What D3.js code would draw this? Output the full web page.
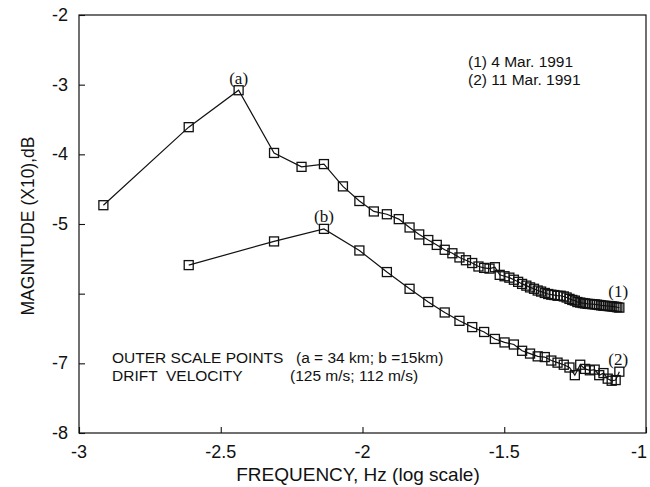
<!DOCTYPE html>
<html><head><meta charset="utf-8">
<script src="https://cdn.jsdelivr.net/npm/d3@7"></script>
<style>body{margin:0;background:#fff}svg{display:block}</style>
</head><body>
<svg id="c" width="650" height="487"></svg>
<script>
// log10 frequency (Hz) and magnitude (x10 dB)
const freq1 = [-2.914,-2.613,-2.437,-2.312,-2.215,-2.136,-2.069,-2.011,-1.960,-1.914,-1.872,-1.834,-1.800,-1.768,-1.738,-1.710,-1.683,-1.658,-1.635,-1.613,-1.591,-1.571,-1.552,-1.533,-1.516,-1.499,-1.482,-1.466,-1.451,-1.437,-1.422,-1.409,-1.395,-1.382,-1.370,-1.357,-1.345,-1.334,-1.323,-1.312,-1.301,-1.290,-1.280,-1.270,-1.260,-1.251,-1.242,-1.232,-1.223,-1.215,-1.206,-1.198,-1.189,-1.181,-1.173,-1.165,-1.158,-1.150,-1.143,-1.135,-1.128,-1.121,-1.114,-1.107,-1.101,-1.094];
const mag1 = [-4.73,-3.61,-3.08,-3.98,-4.18,-4.14,-4.46,-4.67,-4.82,-4.86,-4.93,-5.05,-5.15,-5.23,-5.30,-5.37,-5.42,-5.48,-5.52,-5.56,-5.61,-5.63,-5.64,-5.62,-5.73,-5.75,-5.77,-5.80,-5.83,-5.86,-5.885,-5.91,-5.93,-5.955,-5.97,-5.99,-6.005,-6.015,-6.02,-6.03,-6.03,-6.04,-6.055,-6.075,-6.09,-6.10,-6.12,-6.128,-6.135,-6.14,-6.146,-6.148,-6.151,-6.154,-6.158,-6.163,-6.168,-6.173,-6.175,-6.177,-6.18,-6.182,-6.186,-6.19,-6.195,-6.20];
const freq2 = [-2.613,-2.312,-2.136,-2.011,-1.914,-1.834,-1.768,-1.710,-1.658,-1.613,-1.571,-1.533,-1.499,-1.466,-1.437,-1.409,-1.382,-1.357,-1.334,-1.312,-1.290,-1.270,-1.251,-1.232,-1.215,-1.198,-1.181,-1.165,-1.150,-1.135,-1.121,-1.107,-1.094];
const mag2 = [-5.59,-5.25,-5.07,-5.38,-5.69,-5.93,-6.12,-6.27,-6.39,-6.48,-6.55,-6.65,-6.70,-6.73,-6.82,-6.86,-6.90,-6.91,-6.96,-6.99,-7.02,-7.06,-7.17,-7.02,-7.08,-7.10,-7.09,-7.17,-7.14,-7.22,-7.25,-7.24,-7.12];
const xTicks = [-3,-2.5,-2,-1.5,-1];
const xTickLabels = ["-3","-2.5","-2","-1.5","-1"];
const yTicks = [-2,-3,-4,-5,-6,-7,-8];
const yTickLabels = ["-2","-3","-4","-5","","-7","-8"];
const legendLines = ["(1) 4 Mar. 1991","(2) 11 Mar. 1991"];
const noteLine1 = ["OUTER SCALE POINTS","(a = 34 km; b =15km)"];
const noteLine2 = ["DRIFT  VELOCITY","(125 m/s; 112 m/s)"];
const pointLabels = [{t:"(a)",x:-2.437,y:-3.08},{t:"(b)",x:-2.136,y:-5.07}];
const endLabels = [{t:"(1)",x:-1.094,y:-6.20},{t:"(2)",x:-1.094,y:-7.12}];

const svg = d3.select("#c");
const L=79,R=646,T=15,B=433;
const x = d3.scaleLinear().domain([-3,-1]).range([L,R]);
const y = d3.scaleLinear().domain([-8,-2]).range([B,T]);
const sans = "'Liberation Sans', Arial, sans-serif";
const serif = "'Liberation Serif', 'Times New Roman', serif";

// frame
svg.append("rect").attr("x",L).attr("y",T).attr("width",R-L).attr("height",B-T)
  .attr("fill","none").attr("stroke","#111").attr("stroke-width",1.2);

// y axis
const yAx = svg.append("g").attr("transform",`translate(${L},0)`)
  .call(d3.axisRight(y).tickValues(yTicks).tickSize(6).tickFormat(""));
yAx.select(".domain").remove();
yAx.selectAll("line").attr("stroke","#111").attr("stroke-width",1.1);
svg.append("g").selectAll("text").data(yTicks).join("text")
  .attr("x",L-11).attr("y",d=>y(d)+6).attr("text-anchor","end")
  .attr("font-family",sans).attr("font-size",18).attr("fill","#111")
  .text((d,i)=>yTickLabels[i]);

// x axis
const xAx = svg.append("g").attr("transform",`translate(0,${B})`)
  .call(d3.axisTop(x).tickValues(xTicks).tickSize(6).tickFormat(""));
xAx.select(".domain").remove();
xAx.selectAll("line").attr("stroke","#111").attr("stroke-width",1.1);
svg.append("g").selectAll("text").data(xTicks).join("text")
  .attr("x",d=>Math.min(x(d),639)).attr("y",B+25).attr("text-anchor","middle")
  .attr("font-family",sans).attr("font-size",18).attr("fill","#111")
  .text((d,i)=>xTickLabels[i]);

// axis titles
svg.append("text").attr("x",358).attr("y",481).attr("text-anchor","middle")
  .attr("font-family",sans).attr("font-size",19).attr("fill","#111")
  .text("FREQUENCY, Hz (log scale)");
svg.append("text").attr("transform","translate(34,226) rotate(-90)").attr("text-anchor","middle")
  .attr("font-family",sans).attr("font-size",17.5).attr("fill","#111")
  .text("MAGNITUDE (X10),dB");

// series
const line = d3.line().x(d=>x(d[0])).y(d=>y(d[1]));
[[freq1,mag1],[freq2,mag2]].forEach(([f,m])=>{
  const pts = f.map((v,i)=>[v,m[i]]);
  svg.append("path").datum(pts).attr("d",line).attr("fill","none")
    .attr("stroke","#111").attr("stroke-width",1.2);
  svg.append("g").selectAll("rect").data(pts).join("rect")
    .attr("x",d=>x(d[0])-4.5).attr("y",d=>y(d[1])-4.5).attr("width",9).attr("height",9)
    .attr("fill","none").attr("stroke","#111").attr("stroke-width",1.3);
});

// point labels
svg.append("g").selectAll("text").data(pointLabels).join("text")
  .attr("x",d=>x(d.x)).attr("y",d=>y(d.y)-6.5).attr("text-anchor","middle")
  .attr("font-family",serif).attr("font-size",17).attr("fill","#111").text(d=>d.t);
const endDy = [-10.5,-7];
svg.append("g").selectAll("text").data(endLabels).join("text")
  .attr("x",d=>x(d.x)-11).attr("y",(d,i)=>y(d.y)+endDy[i]).attr("text-anchor","start")
  .attr("font-family",serif).attr("font-size",17).attr("fill","#111").text(d=>d.t);

// legend
svg.append("g").selectAll("text").data(legendLines).join("text")
  .attr("x",468).attr("y",(d,i)=>67+i*17.5)
  .attr("font-family",sans).attr("font-size",15.5).attr("fill","#111").text(d=>d);

// notes
const notes = svg.append("g").attr("font-family",sans).attr("font-size",15.5).attr("fill","#111");
notes.append("text").attr("x",112).attr("y",363).text(noteLine1[0]);
notes.append("text").attr("x",296).attr("y",363).text(noteLine1[1]);
notes.append("text").attr("x",112).attr("y",381).style("white-space","pre").text(noteLine2[0]);
notes.append("text").attr("x",290).attr("y",381).text(noteLine2[1]);
</script>
</body></html>
